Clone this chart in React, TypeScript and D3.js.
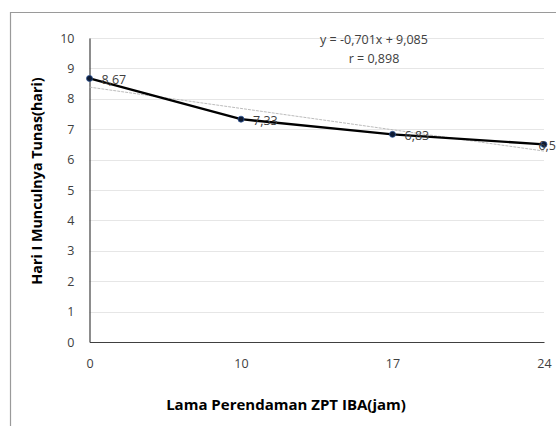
import { useCallback, useEffect, useRef } from "react";
import * as d3 from "d3";

const categories = ["0", "10", "17", "24"];
const values = [8.67, 7.33, 6.83, 6.5];
const valueLabels = ["8,67", "7,33", "6,83", "6,5"];
const yTicks = [0, 1, 2, 3, 4, 5, 6, 7, 8, 9, 10];
const trendSlope = -0.701;
const trendIntercept = 9.085;
const equationLines = ["y = -0,701x + 9,085", "r = 0,898"];
const xTitle = "Lama Perendaman ZPT IBA(jam)";
const yTitle = "Hari I Munculnya Tunas(hari)";

const App = () => {
  const width = 556;
  const height = 426;
  const svgRef = useRef(null);

  const renderChart = useCallback((svgEl) => {
    const svg = d3.select(svgEl);
    svg.selectAll("*").remove();

    const margin = { top: 38, right: 12, bottom: 84, left: 89.5 };
    const font = "Open Sans, Noto Sans, sans-serif";

    // outer chart border (only top and left visible)
    svg
      .append("path")
      .attr("d", `M10.5,${height} V12.5 H${width}`)
      .attr("fill", "none")
      .attr("stroke", "#9a9a9a")
      .attr("stroke-width", 1.2);

    const x = d3
      .scalePoint()
      .domain(categories)
      .range([margin.left, width - margin.right]);

    const y = d3
      .scaleLinear()
      .domain([0, 10])
      .range([height - margin.bottom, margin.top]);

    // gridlines
    svg
      .append("g")
      .selectAll("line")
      .data(yTicks.filter((d) => d > 0))
      .join("line")
      .attr("x1", margin.left)
      .attr("x2", width - margin.right)
      .attr("y1", (d) => Math.round(y(d)) + 0.5)
      .attr("y2", (d) => Math.round(y(d)) + 0.5)
      .attr("stroke", "#e6e6e6")
      .attr("stroke-width", 1);

    // y axis
    const yAxis = svg
      .append("g")
      .attr("transform", `translate(${margin.left},0)`)
      .call(d3.axisLeft(y).tickValues(yTicks).tickSize(0).tickPadding(15));
    yAxis.select(".domain").attr("stroke", "#404040").attr("stroke-width", 1.2);
    yAxis
      .selectAll("text")
      .attr("font-family", font)
      .attr("font-size", 12.5)
      .attr("fill", "#404040");

    // x axis
    const xAxis = svg
      .append("g")
      .attr("transform", `translate(0,${y(0)})`)
      .call(d3.axisBottom(x).tickSize(0).tickPadding(17));
    xAxis.select(".domain").attr("stroke", "#404040").attr("stroke-width", 1.2);
    xAxis
      .selectAll("text")
      .attr("font-family", font)
      .attr("font-size", 12.5)
      .attr("fill", "#404040");

    // linear trendline (Excel style: x = 1..n)
    const trend = d3
      .line()
      .x((d, i) => x(categories[i]))
      .y((d, i) => y(trendSlope * (i + 1) + trendIntercept));
    svg
      .append("path")
      .datum(categories)
      .attr("d", trend)
      .attr("fill", "none")
      .attr("stroke", "#b4b4b4")
      .attr("stroke-width", 0.9)
      .attr("stroke-dasharray", "3,1");

    // data line
    const line = d3
      .line()
      .x((d, i) => x(categories[i]))
      .y((d) => y(d));
    svg
      .append("path")
      .datum(values)
      .attr("d", line)
      .attr("fill", "none")
      .attr("stroke", "#000")
      .attr("stroke-width", 2.4)
      .attr("stroke-linejoin", "round");

    svg
      .append("g")
      .selectAll("circle")
      .data(values)
      .join("circle")
      .attr("cx", (d, i) => x(categories[i]))
      .attr("cy", (d) => y(d))
      .attr("r", 3)
      .attr("fill", "#0d1a33")
      .attr("stroke", "#2e5597")
      .attr("stroke-width", 0.8);

    // data labels; the last one is pushed back inside the chart edge
    svg
      .append("g")
      .selectAll("text")
      .data(values)
      .join("text")
      .attr("x", (d, i) =>
        i === values.length - 1 ? width : x(categories[i]) + 12
      )
      .attr("y", (d) => y(d) + 1)
      .attr("dy", "0.35em")
      .attr("text-anchor", (d, i) => (i === values.length - 1 ? "end" : "start"))
      .attr("font-family", font)
      .attr("font-size", 12.5)
      .attr("fill", "#404040")
      .text((d, i) => valueLabels[i]);

    // equation
    svg
      .append("g")
      .selectAll("text")
      .data(equationLines)
      .join("text")
      .attr("x", 374)
      .attr("y", (d, i) => 40 + i * 19)
      .attr("dy", "0.35em")
      .attr("text-anchor", "middle")
      .attr("font-family", font)
      .attr("font-size", 12.5)
      .attr("fill", "#404040")
      .text((d) => d);

    // axis titles
    svg
      .append("text")
      .attr("x", 286)
      .attr("y", 405)
      .attr("dy", "0.35em")
      .attr("text-anchor", "middle")
      .attr("font-family", font)
      .attr("font-size", 15)
      .attr("font-weight", "bold")
      .attr("fill", "#000")
      .text(xTitle);

    svg
      .append("text")
      .attr("transform", "translate(37,181) rotate(-90)")
      .attr("dy", "0.35em")
      .attr("text-anchor", "middle")
      .attr("font-family", font)
      .attr("font-size", 14.3)
      .attr("font-weight", "bold")
      .attr("fill", "#000")
      .text(yTitle);
  }, []);

  useEffect(() => {
    renderChart(svgRef.current);
  }, [renderChart]);

  return (
    <svg
      ref={svgRef}
      width={width}
      height={height}
      style={{ position: "absolute", left: 0, top: 0, background: "#fff" }}
    />
  );
};

export default App;
